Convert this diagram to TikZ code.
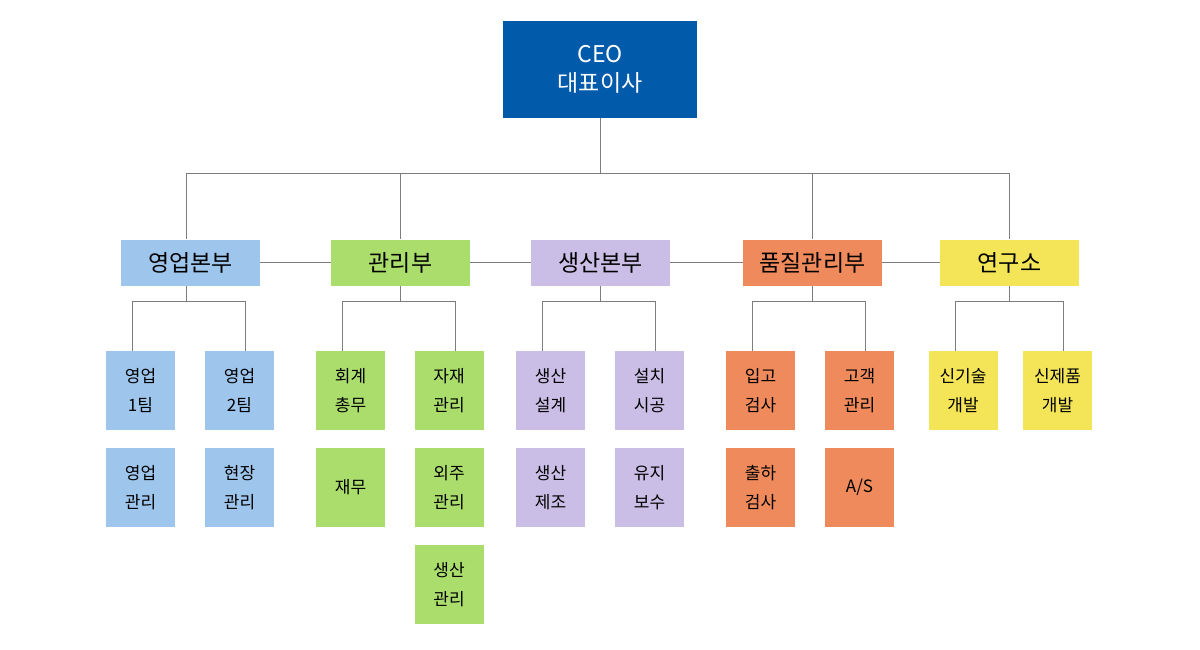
\documentclass[tikz,border=0pt]{standalone}
\usepackage{fontspec}
\setmainfont{Noto Sans CJK KR}
\definecolor{ceoblue}{RGB}{2,90,170}
\definecolor{yblue}{RGB}{158,198,236}
\definecolor{ggreen}{RGB}{170,221,108}
\definecolor{spurple}{RGB}{202,190,230}
\definecolor{qorange}{RGB}{238,138,92}
\definecolor{ryellow}{RGB}{243,228,88}
\definecolor{linegray}{RGB}{125,125,125}
\begin{document}
\begin{tikzpicture}[x=1pt,y=-1pt,
    line/.style={draw=linegray,line width=1pt},
    dept/.style={minimum width=139pt,minimum height=46pt,inner sep=0pt,
      font=\fontsize{23}{27}\selectfont},
    team/.style={minimum width=69pt,minimum height=79pt,inner sep=0pt,
      align=center,font=\fontsize{17}{29}\selectfont}]
  \useasboundingbox[fill=white] (0,0) rectangle (1200,650);
  % top
  \node[fill=ceoblue,text=white,minimum width=194pt,minimum height=97pt,inner sep=0pt,
    align=center,font=\fontsize{23}{29}\selectfont] (ceo) at (600,69.5) {CEO\\대표이사};
  % departments
  \node[dept,fill=yblue]   (ys) at (190.5,262.5)  {영업본부};
  \node[dept,fill=ggreen]  (gl) at (400.5,262.5)  {관리부};
  \node[dept,fill=spurple] (sc) at (600.5,262.5)  {생산본부};
  \node[dept,fill=qorange] (pq) at (812.5,262.5)  {품질관리부};
  \node[dept,fill=ryellow] (ry) at (1009.5,262.5) {연구소};
  % teams
  \node[team,fill=yblue] (ys1) at (140.5,390.5) {영업\\1팀};
  \node[team,fill=yblue] (ys2) at (239.5,390.5) {영업\\2팀};
  \node[team,fill=yblue] (ys3) at (140.5,487.5) {영업\\관리};
  \node[team,fill=yblue] (ys4) at (239.5,487.5) {현장\\관리};
  \node[team,fill=ggreen] (gl1) at (350.5,390.5) {회계\\총무};
  \node[team,fill=ggreen] (gl2) at (449,390.5)   {자재\\관리};
  \node[team,fill=ggreen] (gl3) at (350.5,487.5) {재무};
  \node[team,fill=ggreen] (gl4) at (449,487.5)   {외주\\관리};
  \node[team,fill=ggreen] (gl5) at (449,584.5)   {생산\\관리};
  \node[team,fill=spurple] (sc1) at (550.5,390.5) {생산\\설계};
  \node[team,fill=spurple] (sc2) at (649.5,390.5) {설치\\시공};
  \node[team,fill=spurple] (sc3) at (550.5,487.5) {생산\\제조};
  \node[team,fill=spurple] (sc4) at (649.5,487.5) {유지\\보수};
  \node[team,fill=qorange] (pq1) at (760.5,390.5) {입고\\검사};
  \node[team,fill=qorange] (pq2) at (859.5,390.5) {고객\\관리};
  \node[team,fill=qorange] (pq3) at (760.5,487.5) {출하\\검사};
  \node[team,fill=qorange] (pq4) at (859.5,487.5) {A/S};
  \node[team,fill=ryellow] (ry1) at (963,390.5)    {신기술\\개발};
  \node[team,fill=ryellow] (ry2) at (1057.5,390.5) {신제품\\개발};
  % lines
  \draw[line] (ceo.south) -- ++(0,55) coordinate (bus);
  \draw[line] (bus) -| ([xshift=-4.5pt]ys.north) (bus) -| (ry.north);
  \draw[line] (bus) -| (gl.north) (bus) -| (pq.north);
  \draw[line] (ys.east) -- (gl.west) (gl.east) -- (sc.west) (sc.east) -- (pq.west) (pq.east) -- (ry.west);
  \foreach \d/\a/\b/\s in {ys/ys1/ys2/-4.5,gl/gl1/gl2/0,sc/sc1/sc2/0,pq/pq1/pq2/0,ry/ry1/ry2/0}{
    \draw[line] ([xshift=\s pt]\d.south) -- ++(0,16) coordinate (\d-j);
    \draw[line] ([xshift=-8pt]\a.north) |- (\d-j) -| ([xshift=6pt]\b.north);
  }
\end{tikzpicture}
\end{document}
